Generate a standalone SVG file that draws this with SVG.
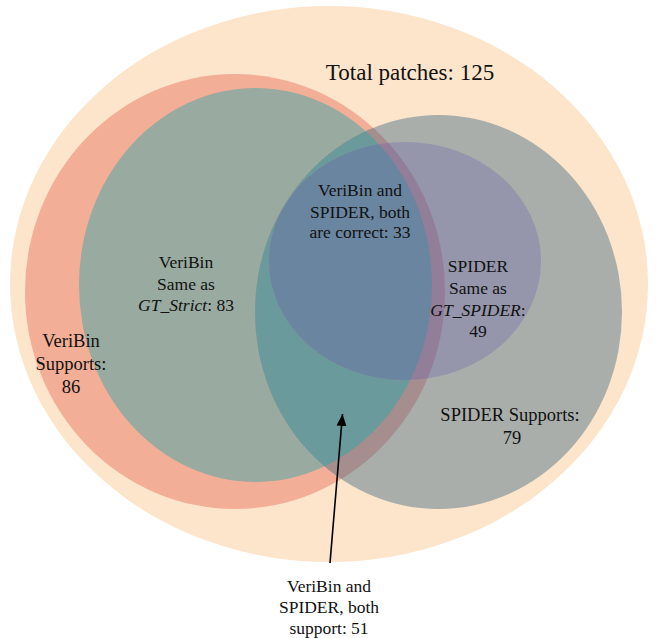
<svg xmlns="http://www.w3.org/2000/svg" width="656" height="638" viewBox="0 0 656 638">
<style>
text{font-family:"Liberation Serif","Times New Roman",serif;fill:#111;text-anchor:middle}
.l{font-size:17.5px}
.s{font-size:18.5px}
.t{font-size:23px}
.i{font-style:italic}
</style>
<defs>
<clipPath id="clipRed"><ellipse cx="235" cy="291.5" rx="210" ry="217.5"/></clipPath>
<clipPath id="clipGreen"><ellipse cx="255.5" cy="285" rx="176.5" ry="197"/></clipPath>
<marker id="arr" markerUnits="userSpaceOnUse" markerWidth="12" markerHeight="10" refX="12" refY="5" orient="auto">
<path d="M0,0 L12,5 L0,10 Z" fill="#000"/>
</marker>
</defs>
<g id="total"><ellipse cx="329" cy="284" rx="319" ry="278" fill="#FCE5CB"/></g>
<g id="veribin-supports"><ellipse cx="235" cy="291.5" rx="210" ry="217.5" fill="#F2AE96"/></g>
<g id="veribin-same"><ellipse cx="255.5" cy="285" rx="176.5" ry="197" fill="#99ABA0"/></g>
<g id="spider-supports"><ellipse cx="438.5" cy="312" rx="183.5" ry="197" fill="#A9AEAA"/></g>
<g id="overlap-supports">
<ellipse cx="438.5" cy="312" rx="183.5" ry="197" fill="#A68D8E" clip-path="url(#clipRed)"/>
<ellipse cx="438.5" cy="312" rx="183.5" ry="197" fill="#6A9A9B" clip-path="url(#clipGreen)"/>
</g>
<g id="spider-same"><ellipse cx="405" cy="261" rx="136" ry="119" fill="#9596AB"/></g>
<g id="overlap-correct">
<ellipse cx="405" cy="261" rx="136" ry="119" fill="#927E99" clip-path="url(#clipRed)"/>
<ellipse cx="405" cy="261" rx="136" ry="119" fill="#6A85A0" clip-path="url(#clipGreen)"/>
</g>
<g id="connectors">
<line x1="330" y1="563" x2="342.5" y2="414" stroke="#000" stroke-width="1.6" marker-end="url(#arr)"/>
</g>
<g id="label-total"><text class="t" x="410" y="80">Total patches: 125</text></g>
<g id="label-veribin-supports"><text class="s" x="71" y="347">VeriBin</text><text class="s" x="71" y="370">Supports:</text><text class="s" x="71" y="393">86</text></g>
<g id="label-veribin-same"><text class="l" x="186" y="268">VeriBin</text><text class="l" x="186" y="290">Same as</text><text class="l" x="186" y="311"><tspan class="i">GT_Strict</tspan>: 83</text></g>
<g id="label-both-correct"><text class="l" x="360" y="196">VeriBin and</text><text class="l" x="360" y="218">SPIDER, both</text><text class="l" x="360" y="238">are correct: 33</text></g>
<g id="label-spider-same"><text class="l" x="478" y="272">SPIDER</text><text class="l" x="478" y="294">Same as</text><text class="l" x="478" y="316"><tspan class="i">GT_SPIDER</tspan>:</text><text class="l" x="478" y="337">49</text></g>
<g id="label-spider-supports"><text class="s" x="510" y="421">SPIDER Supports:</text><text class="s" x="512" y="444">79</text></g>
<g id="label-both-support"><text class="l" x="329" y="592">VeriBin and</text><text class="l" x="329" y="613">SPIDER, both</text><text class="l" x="329" y="634">support: 51</text></g>
</svg>
